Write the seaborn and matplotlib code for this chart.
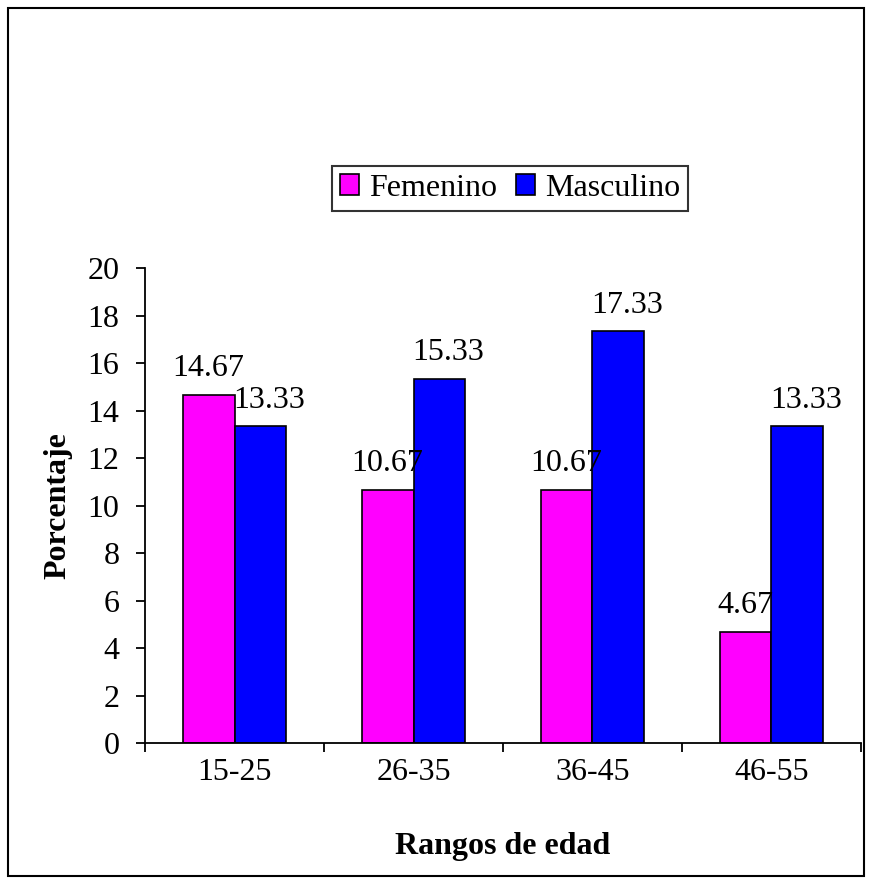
import matplotlib
matplotlib.use("Agg")
import matplotlib.pyplot as plt
from matplotlib.patches import Rectangle
import seaborn as sns
import pandas as pd

categories = ["15-25", "26-35", "36-45", "46-55"]
femenino = [14.67, 10.67, 10.67, 4.67]
masculino = [13.33, 15.33, 17.33, 13.33]
series_names = ["Femenino", "Masculino"]
colors = ["#FF00FF", "#0000FF"]

df = pd.DataFrame({
    "rango": categories * 2,
    "valor": femenino + masculino,
    "sexo": [series_names[0]] * len(categories) + [series_names[1]] * len(categories),
})

sns.set_theme(style="white")
plt.rcParams["font.family"] = ["Liberation Serif", "DejaVu Serif"]
plt.rcParams["font.size"] = 23
plt.rcParams["text.color"] = "black"
plt.rcParams["axes.labelcolor"] = "black"
plt.rcParams["xtick.color"] = "black"
plt.rcParams["ytick.color"] = "black"

FS = 23

fig = plt.figure(figsize=(8.71, 8.84), dpi=100)
ax = fig.add_axes([0.1665, 0.1595, 0.822, 0.5373])

sns.barplot(data=df, x="rango", y="valor", hue="sexo", palette=colors,
            order=categories, hue_order=series_names, width=0.58,
            edgecolor="black", linewidth=1.2, saturation=1, ax=ax,
            legend=False)

# value labels above each bar (second series nudged slightly right)
for k, container in enumerate(ax.containers):
    dx = 0 if k == 0 else 6
    for patch, val in zip(container.patches, container.datavalues):
        ax.annotate(f"{val:.2f}",
                    xy=(patch.get_x() + patch.get_width() / 2, patch.get_height()),
                    xytext=(dx, 8.5), textcoords="offset points",
                    ha="center", va="bottom", fontsize=FS, color="black")

ax.set_ylim(0, 20)
ax.set_xlim(-0.5, 3.5)
ax.set_yticks(range(0, 21, 2))
ax.tick_params(axis="y", which="major", direction="out", length=6.5, width=1.3,
               left=True, labelsize=FS, pad=12)
# tick marks at category boundaries, labels at category centres
ax.set_xticks([i - 0.5 for i in range(len(categories) + 1)])
ax.set_xticklabels([])
ax.set_xticks(range(len(categories)), minor=True)
ax.set_xticklabels(categories, minor=True)
ax.tick_params(axis="x", which="major", direction="out", length=6.5, width=1.3,
               bottom=True)
ax.tick_params(axis="x", which="minor", length=0, labelsize=FS, pad=11)

for side in ["top", "right"]:
    ax.spines[side].set_visible(False)
for side in ["left", "bottom"]:
    ax.spines[side].set_color("black")
    ax.spines[side].set_linewidth(1.3)

ax.set_xlabel("Rangos de edad", fontsize=FS, fontweight="bold", labelpad=32)
ax.set_ylabel("Porcentaje", fontsize=FS, fontweight="bold", labelpad=11)
ax.grid(False)

handles = [Rectangle((0, 0), 1, 1, facecolor=c, edgecolor="black", linewidth=1.2)
           for c in colors]
leg = fig.legend(handles, series_names, loc="center", bbox_to_anchor=(0.5855, 0.787),
                 ncol=2, frameon=True, fancybox=False, fontsize=FS,
                 handlelength=0.6, handleheight=0.6, handletextpad=0.3,
                 columnspacing=0.6, borderpad=0.25, borderaxespad=0)
leg.get_frame().set_edgecolor("black")
leg.get_frame().set_linewidth(1.5)

# outer chart border
fig.patches.append(Rectangle((0.009, 0.009), 0.983, 0.982, transform=fig.transFigure,
                             fill=False, edgecolor="black", linewidth=1.5))

fig.savefig("out.png", dpi=100)
